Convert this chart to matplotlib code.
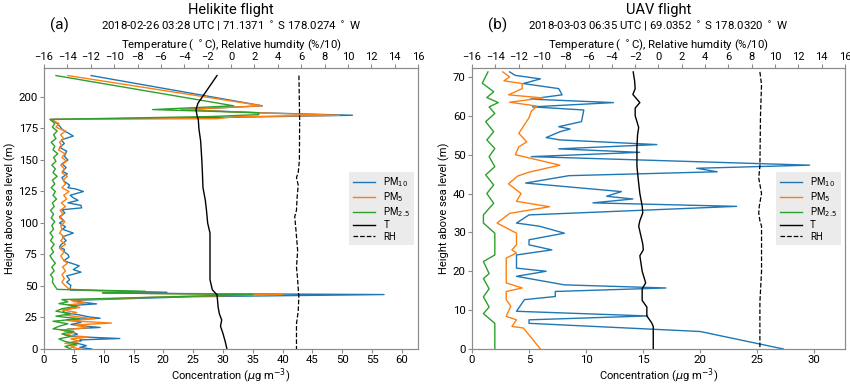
import numpy as np
import matplotlib
matplotlib.use("Agg")
import matplotlib.pyplot as plt

plt.rcParams['font.family'] = ['Roboto', 'DejaVu Sans']
plt.rcParams['mathtext.fontset'] = 'dejavusans'
plt.rcParams['axes.edgecolor'] = '#8c8c8c'
plt.rcParams['xtick.color'] = '#8c8c8c'
plt.rcParams['ytick.color'] = '#8c8c8c'
plt.rcParams['xtick.labelcolor'] = 'black'
plt.rcParams['ytick.labelcolor'] = 'black'

# === Helikite flight (a) ===
heli_pm10_h = [217, 193, 190, 187.5, 185.5, 183.8, 182.2, 179, 177, 174, 171.5, 169, 166, 163, 160, 157,
               153, 150, 147, 144, 141, 139, 136, 133, 130, 128, 127, 125, 122, 120, 118, 116, 114, 112,
               110.5, 108, 105, 102, 100, 97, 95, 92, 89, 86, 83, 81, 79, 77, 75, 73, 70, 68, 66, 63, 61,
               58, 55, 53, 50.5, 48.5, 46.8, 45.0, 44.3, 43.2, 41.5, 38.6, 37.2, 35.8, 34.5, 33, 31, 29,
               27, 25.5, 24.4, 23.3, 22, 21.1, 19.5, 18.3, 17.1, 15.8, 14.4, 13, 11.8, 10, 8.3, 7.2, 6.4,
               5.3, 4, 2.6, 1.2, 0]
heli_pm10 = [7.9, 36.6, 23.0, 36.0, 51.7, 30.0, 1.3, 2.2, 2.6, 3.1, 4.0, 4.9, 2.9, 3.4, 2.6, 3.8,
             3.4, 4.0, 3.0, 3.7, 3.1, 3.9, 3.0, 3.4, 4.3, 4.0, 5.3, 6.6, 4.4, 4.9, 5.7, 4.0, 6.2, 6.3,
             3.0, 3.5, 2.6, 3.3, 2.6, 3.6, 3.1, 4.9, 3.1, 3.7, 2.9, 2.6, 3.4, 3.4, 4.0, 4.2, 3.3, 4.6, 5.9, 4.9, 6.2,
             3.8, 4.3, 3.8, 4.5, 4.4, 4.4, 20.6, 10.0, 57.0, 25.0, 5.0, 6.3, 8.8, 4.6, 5.5, 3.5, 3.2,
             6.0, 7.5, 9.4, 3.8, 5.5, 6.2, 4.5, 6.5, 9.4, 4.0, 3.4, 5.0, 5.6, 4.2, 12.7, 6.0, 6.2,
             4.6, 6.0, 7.1, 6.0, 8.0]

heli_pm5_h = [217, 193, 190, 187.5, 185.5, 184.3, 182.8, 182.2, 179, 176, 173, 170, 167, 164, 161, 158,
              155, 152, 149, 146, 143, 140, 137, 134, 131, 128, 125, 122, 119, 116, 113, 110, 107, 104,
              101, 98, 95, 92, 89, 86, 83, 80, 77, 74, 71, 68, 65, 62, 59, 56, 53, 50, 47.5, 45.5, 44.4,
              43.2, 41.5, 38.8, 37.5, 36.5, 35, 33, 31, 29, 27, 25, 24, 22.5, 20.6, 19, 17, 15, 13, 11,
              9.5, 8, 6, 4.5, 3, 1.5, 0]
heli_pm5 = [4.0, 36.6, 23.0, 35.0, 49.5, 32.0, 29.0, 1.0, 2.5, 2.0, 3.6, 2.8, 3.3, 2.6, 3.0, 2.4,
            3.5, 3.0, 3.8, 2.8, 3.4, 3.0, 3.9, 3.2, 3.6, 3.0, 4.2, 3.3, 3.8, 2.9, 3.6, 2.7, 3.2, 2.6,
            3.5, 2.8, 3.0, 2.6, 3.4, 2.8, 3.6, 2.6, 3.4, 2.8, 3.2, 3.9, 3.1, 3.6, 3.0, 3.4, 3.0, 3.6, 4.2, 13.0, 9.8,
            40.0, 21.0, 4.5, 5.0, 7.0, 4.0, 6.0, 3.0, 5.5, 3.5, 6.5, 8.5, 4.0, 11.3, 5.0, 7.5, 2.8, 5.0, 3.5,
            7.5, 4.5, 6.0, 3.5, 5.5, 4.5, 6.0]

heli_pm25_h = [217, 193, 190, 187.5, 186, 184.5, 182.2, 179, 176, 173, 170, 167, 164, 161, 158, 155, 152,
               149, 146, 143, 140, 137, 134, 131, 128, 125, 122, 119, 116, 113, 110, 107, 104, 101, 98, 95,
               92, 89, 86, 83, 80, 77, 74, 71, 68, 65, 62, 59, 56, 53, 50, 47.3, 45.8, 44.5, 43.2, 41.5,
               39.2, 37.5, 36, 34, 32, 30, 28, 26, 24, 22, 20, 18, 16, 14, 12, 10, 8, 6, 4, 2, 0]
heli_pm25 = [2.0, 31.8, 18.2, 36.0, 36.0, 28.0, 1.0, 1.8, 1.4, 2.2, 1.6, 2.0, 1.2, 1.8, 1.5, 2.3, 1.6,
             2.0, 1.3, 1.9, 1.5, 2.2, 1.4, 1.8, 1.2, 1.9, 1.5, 2.1, 1.4, 1.7, 1.1, 1.6, 1.2, 1.8, 1.3, 1.6,
             1.0, 1.5, 1.1, 1.7, 1.2, 1.6, 1.0, 1.4, 1.9, 1.3, 1.7, 1.1, 1.5, 1.4, 1.8, 2.2, 17.0, 9.8, 35.0, 22.0,
             3.0, 4.0, 2.5, 5.5, 3.0, 2.0, 4.5, 2.0, 6.0, 1.5, 4.0, 2.5, 1.5, 5.0, 3.0, 4.5, 2.5, 3.5, 5.5, 3.5, 4.5]

heli_t_h = [217, 195, 190, 185, 182, 175, 165, 150, 140, 128, 118, 110, 100, 92, 80, 65, 55, 47, 44, 43,
            38, 33, 28, 23, 18, 12.6, 6, 0]
heli_t = [-1.2, -2.83, -3.0, -2.9, -2.8, -2.75, -2.6, -2.5, -2.45, -2.4, -2.2, -2.1, -2.0, -1.8, -1.8,
          -1.8, -1.8, -1.6, -1.3, -1.2, -1.15, -1.1, -1.0, -0.8, -0.9, -0.7, -0.5, -0.35]

heli_rh_h = [217, 182, 150, 140, 136, 130, 120, 110, 105, 95, 78, 65, 55, 41, 30, 20, 12.6, 0]
heli_rh = [58.1, 58.7, 58.5, 57.5, 56.0, 57.5, 56.5, 56.0, 54.5, 55.5, 57.0, 56.0, 57.0, 58.0, 57.5,
           56.0, 56.0, 56.0]

# === UAV flight (b) ===
uav_pm10_h = [71.3, 70.4, 69.5, 68.3, 67.0, 65.4, 64.3, 63.4, 62.3, 61.5, 58.5, 57.2, 56.6, 55.9, 54.4,
              53.8, 52.6, 51.5, 50.6, 49.5, 47.3, 46.5, 45.6, 44.6, 42.7, 40.5, 39.3, 38.6, 37.6, 36.7,
              34.5, 32.4, 31.6, 29.8, 28.1, 26.8, 25.5, 24.2, 20.8, 20.0, 18.7, 16.5, 15.7, 14.8, 13.5,
              12.7, 9.7, 8.5, 7.5, 6.6, 4.5, 0.0]
uav_pm10 = [3.3, 3.8, 6.0, 4.5, 7.6, 7.9, 5.1, 12.4, 5.3, 9.8, 9.6, 7.6, 8.6, 7.7, 6.5,
            7.7, 16.2, 7.6, 14.7, 5.2, 29.6, 19.7, 21.5, 8.5, 4.7, 13.1, 11.8, 14.1, 10.6, 23.2,
            5.0, 3.9, 5.9, 8.1, 5.0, 5.0, 7.0, 3.9, 3.9, 6.5, 3.9, 8.1, 17.0, 7.3, 7.3,
            4.6, 3.9, 15.4, 5.0, 5.0, 20.0, 27.3]

uav_pm5_h = [71.3, 70.0, 69.0, 68.3, 67.0, 65.4, 64.6, 63.5, 62.5, 61.2, 59.5, 55.5, 53.3, 52.0, 50.0,
             47.3, 45.5, 44.5, 42.5, 40.0, 38.0, 36.6, 34.9, 32.4, 29.8, 26.8, 25.5, 24.7, 23.4, 17.0,
             15.7, 14.8, 12.7, 11.0, 8.4, 7.5, 5.8, 5.4, 0.0]
uav_pm5 = [2.7, 3.3, 2.8, 4.4, 4.4, 3.2, 6.2, 3.3, 5.7, 5.2, 5.0, 4.1, 4.8, 4.1, 3.8,
           7.7, 5.0, 4.0, 3.2, 4.3, 3.9, 6.8, 3.3, 2.2, 3.9, 3.9, 3.5, 3.9, 3.0, 3.0,
           4.4, 3.0, 3.0, 3.4, 3.0, 3.9, 3.5, 4.5, 6.0]

uav_pm25_h = [71.3, 68.4, 66.2, 64.7, 63.4, 62.3, 60.6, 58.5, 55.9, 53.8, 51.6, 49.5, 46.9, 44.8, 42.2,
              40.0, 37.5, 34.5, 32.4, 29.8, 24.2, 22.5, 19.4, 18.1, 15.5, 13.4, 10.8, 9.1, 6.6, 0.0]
uav_pm25 = [1.4, 0.9, 1.9, 1.3, 2.3, 1.5, 2.0, 1.2, 1.9, 1.3, 2.0, 1.5, 2.0, 1.2, 1.9,
            1.3, 1.9, 1.0, 1.0, 2.0, 2.0, 1.0, 1.5, 1.0, 1.5, 1.0, 1.5, 1.0, 2.0, 2.0]

uav_t_h = [71.3, 69, 67, 65.5, 63.4, 62, 60, 57, 55, 52, 47, 44, 40, 36.8, 35, 33, 31.6, 29, 27, 25.5,
           24, 22, 20, 17, 15.5, 12.5, 10.8, 8.5, 6.8, 5.8, 0]
uav_t = [-2.17, -2.05, -2.0, -2.2, -1.6, -2.0, -2.0, -1.7, -1.8, -1.85, -1.85, -1.75, -1.6, -1.4, -1.35,
         -1.6, -1.7, -1.5, -1.35, -1.3, -1.6, -1.5, -1.4, -1.1, -1.4, -1.4, -1.0, -1.0, -0.6, -0.45, -0.45]

uav_rh_h = [71.3, 68, 60, 47, 44, 40, 36.8, 35, 33, 31.6, 20, 12, 0]
uav_rh = [87.0, 88.4, 87.5, 87.0, 86.0, 88.4, 86.5, 86.0, 87.0, 88.4, 88.4, 87.0, 87.0]

panels = [
    dict(pm10=(heli_pm10, heli_pm10_h), pm5=(heli_pm5, heli_pm5_h), pm25=(heli_pm25, heli_pm25_h),
         t=(heli_t, heli_t_h), rh=(heli_rh, heli_rh_h), xlim=62.7, ylim=223,
         xticks=np.arange(0, 61, 5), yticks=np.arange(0, 201, 25),
         title="Helikite flight", tag="(a)",
         sub="2018-02-26 03:28 UTC | 71.1371 $^\\circ$ S 178.0274 $^\\circ$ W"),
    dict(pm10=(uav_pm10, uav_pm10_h), pm5=(uav_pm5, uav_pm5_h), pm25=(uav_pm25, uav_pm25_h),
         t=(uav_t, uav_t_h), rh=(uav_rh, uav_rh_h), xlim=32.7, ylim=72.3,
         xticks=np.arange(0, 31, 5), yticks=np.arange(0, 71, 10),
         title="UAV flight", tag="(b)",
         sub="2018-03-03 06:35 UTC | 69.0352 $^\\circ$ S 178.0320 $^\\circ$ W"),
]

fig = plt.figure(figsize=(8.5, 3.86), dpi=100)
rects = [[0.0518, 0.0959, 0.4400, 0.7279], [0.5553, 0.0959, 0.4388, 0.7279]]
tag_x = [0.070, 0.585]

for p, rect, tx in zip(panels, rects, tag_x):
    ax = fig.add_axes(rect)
    l1, = ax.plot(p['pm10'][0], p['pm10'][1], color='tab:blue', lw=1.0, label='PM$_{10}$')
    l2, = ax.plot(p['pm5'][0], p['pm5'][1], color='tab:orange', lw=1.0, label='PM$_{5}$')
    l3, = ax.plot(p['pm25'][0], p['pm25'][1], color='tab:green', lw=1.0, label='PM$_{2.5}$')
    ax.set_xlim(0, p['xlim'])
    ax.set_ylim(0, p['ylim'])
    ax.set_xticks(p['xticks'])
    ax.set_yticks(p['yticks'])
    ax.tick_params(labelsize=8.2, length=3, pad=1.5)
    ax.set_xlabel("Concentration ($\\mu$g m$^{-3}$)", fontsize=8, labelpad=1)
    ax.set_ylabel("Height above sea level (m)", fontsize=8, labelpad=2)

    ax2 = ax.twiny()
    l4, = ax2.plot(p['t'][0], p['t'][1], color='black', lw=1.0, label='T')
    l5, = ax2.plot(np.array(p['rh'][0]) / 10, p['rh'][1], color='black', lw=0.9, ls='--', label='RH')
    ax2.set_xlim(-16, 16)
    ax2.set_xticks(np.arange(-16, 17, 2))
    ax2.tick_params(labelsize=8, length=3, pad=1.2)
    ax2.set_xlabel("Temperature ( $^\\circ$C), Relative humdity (%/10)", fontsize=8.2, labelpad=3)

    ax2.legend(handles=[l1, l2, l3, l4, l5], loc='center right', fontsize=7,
               facecolor='#ebebeb', edgecolor='none', framealpha=1, fancybox=False,
               handlelength=2.3, borderaxespad=0.4, labelspacing=0.12)

    cx = rect[0] + rect[2] / 2
    fig.text(cx, 0.975, p['title'], ha='center', va='center', fontsize=10.5)
    fig.text(cx, 0.932, p['sub'], ha='center', va='center', fontsize=8.2)
    fig.text(tx, 0.934, p['tag'], ha='center', va='center', fontsize=11)

fig.savefig("out.png", dpi=100)
